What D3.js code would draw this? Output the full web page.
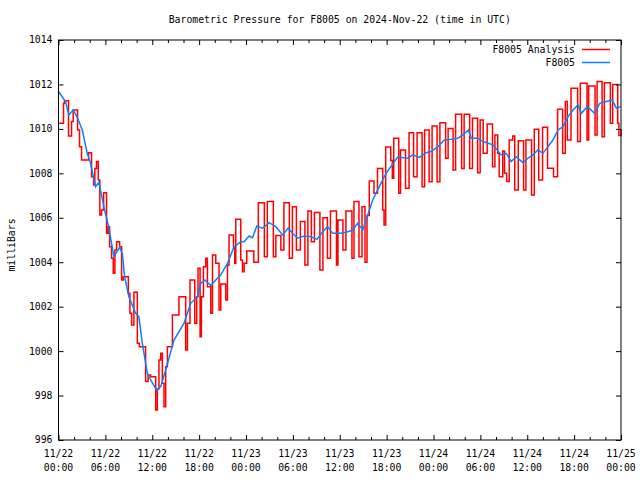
<!DOCTYPE html>
<html><head><meta charset="utf-8">
<script src="https://cdn.jsdelivr.net/npm/d3@7"></script>
<style>
body{margin:0;background:#fff}
text{font-family:"DejaVu Sans Mono","Liberation Mono",monospace;font-size:9.8px;fill:#000}
</style>
</head><body><svg id="c" width="640" height="480"></svg>
<script>
const title = "Barometric Pressure for F8005 on 2024-Nov-22 (time in UTC)";
const yLabel = "milliBars";
const seriesNames = ["F8005 Analysis", "F8005"];
const tickHours = [0,6,12,18,24,30,36,42,48,54,60,66,72];
const tickDates = ["11/22","11/22","11/22","11/22","11/23","11/23","11/23","11/23","11/24","11/24","11/24","11/24","11/25"];
const tickTimes = ["00:00","06:00","12:00","18:00","00:00","06:00","12:00","18:00","00:00","06:00","12:00","18:00","00:00"];
const minorHours = [2,4,8,10,14,16,20,22,26,28,32,34,38,40,44,46,50,52,56,58,62,64,68,70];
const yTicks = [996,998,1000,1002,1004,1006,1008,1010,1012,1014];

// F8005 Analysis (red, stepped): hours since 11/22 00:00 and pressure (mb)
const redHours = [0,0.64,0.77,1.28,1.67,1.88,2.44,2.69,2.95,3.85,4.23,4.49,4.65,4.87,5.09,5.29,5.51,5.77,6.15,6.35,
6.54,6.79,7.01,7.22,7.44,7.82,8.08,8.29,8.94,9.14,9.36,9.65,10.09,10.35,11.15,11.47,11.79,12.44,12.65,12.86,
13.08,13.29,13.5,13.72,13.94,14.58,15.42,16.28,16.5,16.83,17.44,17.69,17.86,18.12,18.29,18.55,18.85,19.06,19.49,19.71,
20.13,20.55,20.77,21.41,21.63,21.83,22.4,22.56,22.69,23.33,23.55,23.76,24.1,25.0,25.58,26.35,26.73,27.5,27.82,28.46,
28.85,29.55,29.94,30.45,30.96,31.54,31.92,32.37,32.76,33.46,33.85,34.42,34.81,35.58,35.77,36.41,36.79,37.56,37.82,38.46,
38.85,39.23,39.49,39.78,40.38,40.83,41.5,41.67,41.88,42.53,42.73,42.91,43.55,43.78,44.42,44.87,45.45,45.9,46.54,46.86,
47.44,47.82,48.46,48.82,49.55,49.87,50.51,50.83,51.6,51.92,52.63,52.99,53.65,53.97,54.36,54.87,55.55,55.86,56.22,56.41,
56.86,57.09,57.37,57.69,58.14,58.4,58.85,59.53,59.83,60.55,60.9,61.47,61.96,62.6,63.37,63.88,64.53,64.87,65.13,65.6,
66.45,66.79,67.65,67.86,68.68,68.94,69.58,69.87,70.64,70.94,71.58,71.73,72];
const redValues = [1010.25,1011.15,1011.27,1009.68,1010.33,1010.85,1009.95,1009.2,1008.6,1008.93,1007.85,1007.48,1008.22,1008.53,1007.7,1006.13,1006.35,1007.13,1005.3,1005.6,
1004.7,1004.18,1003.5,1004.55,1004.92,1004.7,1003.2,1003.35,1002.6,1001.7,1001.18,1002.65,1000.35,1000.2,998.63,998.93,998.85,997.35,998.3,999.6,
999.9,998.55,997.5,999.3,1000.2,1001.63,1002.45,1000.05,1001.25,1003.2,1001.25,1002.45,1003.73,1000.65,1002.45,1003.8,1004.18,1002.9,1001.7,1004.33,
1003.95,1001.85,1003.02,1002.3,1003.88,1005.23,1004.7,1003.95,1005.93,1004.1,1003.57,1003.95,1004.5,1004.0,1006.68,1004.25,1006.73,1004.25,1005.2,1004.55,
1006.68,1004.18,1006.5,1004.55,1005.83,1003.88,1006.3,1004.92,1006.24,1003.65,1006.0,1004.18,1006.3,1003.88,1005.9,1004.55,1006.3,1004.18,1006.73,1004.25,
1006.5,1004.0,1006.1,1007.65,1007.1,1008.22,1006.35,1005.68,1009.18,1008.58,1007.78,1009.58,1007.1,1009.05,1007.33,1009.83,1007.85,1009.83,1007.4,1009.95,
1007.62,1010.13,1007.62,1010.28,1008.68,1010.02,1008.15,1010.66,1008.22,1010.66,1008.22,1010.48,1008.03,1010.4,1008.9,1010.22,1008.3,1009.73,1008.9,1007.85,
1009.0,1008.0,1007.63,1009.5,1009.68,1007.25,1009.47,1007.25,1009.5,1007.03,1009.98,1007.7,1010.07,1008.23,1007.85,1010.88,1008.9,1011.23,1009.5,1011.83,
1009.43,1012.05,1009.5,1011.93,1009.73,1012.13,1009.65,1012.08,1010.25,1012.0,1010.25,1009.7,1010.0];

// F8005 observations (blue)
const blueHours = [0,0.9,1.32,1.88,2.4,3.04,3.68,4.1,4.74,5.17,5.81,6.45,7.09,7.82,8.17,8.46,9.01,9.87,10.29,10.73,
11.37,11.79,12.56,13.08,13.72,14.78,16.06,16.92,17.78,18.21,18.72,19.49,20.13,20.77,21.63,22.47,23.33,23.76,24.4,24.83,
25.38,26.12,26.96,27.82,28.68,29.4,29.96,30.6,31.45,32.31,33.08,33.81,34.45,35.09,36.15,37.01,37.65,38.29,38.94,39.58,
40.22,41.06,41.92,42.78,43.42,44.71,45.35,46.19,47.05,47.69,48.55,49.4,50.26,51.12,51.76,52.47,52.82,53.68,54.32,55.6,
56.67,57.31,57.95,58.59,59.45,60.09,60.73,61.37,62.01,62.65,63.29,63.94,64.58,65.22,65.86,66.5,66.92,67.69,68.63,69.27,
70.13,70.86,71.41,71.96];
const blueValues = [1011.68,1011.23,1010.63,1010.85,1010.52,1009.95,1008.9,1008.46,1007.4,1007.6,1006.5,1005.53,1004.25,1004.67,1004.4,1003.35,1002.45,1001.7,1001.55,1000.35,
999.0,998.7,998.25,998.4,999.15,1000.5,1001.25,1002.15,1002.45,1003.05,1003.2,1002.95,1003.2,1003.43,1003.95,1004.7,1004.92,1004.92,1005.18,1005.1,
1005.63,1005.53,1005.78,1005.6,1005.23,1005.53,1005.3,1005.08,1005.18,1005.15,1005.03,1005.37,1005.6,1005.3,1005.3,1005.37,1005.45,1005.75,1005.45,1006.13,
1006.8,1007.4,1008.0,1008.42,1008.73,1008.68,1008.83,1008.72,1008.93,1008.98,1009.2,1009.5,1009.53,1009.58,1009.73,1009.95,1009.58,1009.58,1009.43,1009.28,
1008.83,1008.9,1008.53,1008.75,1008.48,1008.68,1008.83,1009.05,1008.9,1009.2,1009.5,1009.95,1010.1,1010.55,1010.85,1011.08,1010.7,1011.0,1010.7,1011.15,
1011.23,1011.3,1010.93,1011.0];

const svg = d3.select('#c');
const L = 58.5, R = 621, T = 40, B = 440;
const x = d3.scaleLinear().domain([0,72]).range([L,R]);
const y = d3.scaleLinear().domain([996,1014]).range([B,T]);
svg.append('rect').attr('width',640).attr('height',480).attr('fill','#fff');

const red = redHours.map((h,i)=>[h, redValues[i]]);
const blue = blueHours.map((h,i)=>[h, blueValues[i]]);
const RED = '#ff0000', BLUE = '#0a80ff';

svg.append('path').datum(red)
  .attr('d', d3.line().x(d=>x(d[0])).y(d=>y(d[1])).curve(d3.curveStepAfter))
  .attr('fill','none').attr('stroke',RED).attr('stroke-width',1.5);
svg.append('path').datum(blue)
  .attr('d', d3.line().x(d=>x(d[0])).y(d=>y(d[1])))
  .attr('fill','none').attr('stroke',BLUE).attr('stroke-width',1.5);

function ax(gen, tr){
  const g = svg.append('g').attr('transform', tr).call(gen);
  g.select('.domain').remove();
  g.selectAll('line').attr('stroke','#000').attr('stroke-width',1);
  g.selectAll('text').remove();
}
ax(d3.axisBottom(x).tickValues(tickHours).tickSize(-5), `translate(0,${B})`);
ax(d3.axisBottom(x).tickValues(minorHours).tickSize(-3), `translate(0,${B})`);
ax(d3.axisTop(x).tickValues(tickHours).tickSize(-5), `translate(0,${T})`);
ax(d3.axisTop(x).tickValues(minorHours).tickSize(-3), `translate(0,${T})`);
ax(d3.axisLeft(y).tickValues(yTicks).tickSize(-5), `translate(${L},0)`);
ax(d3.axisRight(y).tickValues(yTicks).tickSize(-5), `translate(${R},0)`);

svg.append('rect').attr('x',L).attr('y',T).attr('width',R-L).attr('height',B-T)
  .attr('fill','none').attr('stroke','#000').attr('stroke-width',1);

// y tick labels
svg.append('g').selectAll('text').data(yTicks).join('text')
  .attr('x', L-6).attr('y', d=>y(d)).attr('dy','0.35em').attr('text-anchor','end').text(d=>d);
// x tick labels
const xl = svg.append('g').selectAll('text').data(tickHours).join('text')
  .attr('text-anchor','middle');
xl.append('tspan').attr('x', d=>x(d)).attr('y', 457).text((d,i)=>tickDates[i]);
xl.append('tspan').attr('x', d=>x(d)).attr('y', 471).text((d,i)=>tickTimes[i]);

svg.append('text').attr('x',(L+R)/2).attr('y',23).attr('text-anchor','middle').text(title);
svg.append('text').attr('transform','translate(15,245) rotate(-90)').attr('text-anchor','middle').text(yLabel);

// legend
const lg = svg.append('g');
[RED, BLUE].forEach((c,i)=>{
  const yy = 49.5 + i*13;
  lg.append('text').attr('x',575).attr('y',yy).attr('dy','0.35em').attr('text-anchor','end').text(seriesNames[i]);
  lg.append('line').attr('x1',582).attr('x2',610).attr('y1',yy).attr('y2',yy).attr('stroke',c).attr('stroke-width',1.5);
});
</script></body></html>
